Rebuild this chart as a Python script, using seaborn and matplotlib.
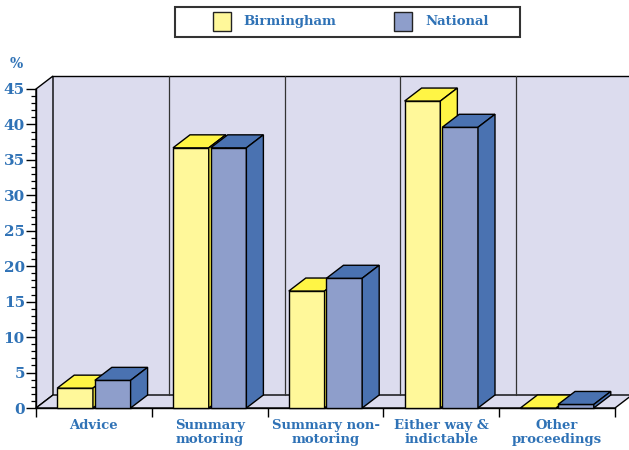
import numpy as np
import pandas as pd
import matplotlib
matplotlib.use("Agg")
import matplotlib.pyplot as plt
import seaborn as sns
from matplotlib.patches import Polygon, Rectangle
from matplotlib.ticker import FixedLocator, MultipleLocator

# ---- data ----
categories = ["Advice", "Summary\nmotoring", "Summary non-\nmotoring",
              "Either way &\nindictable", "Other\nproceedings"]
series = ["Birmingham", "National"]
birmingham = [2.8, 36.7, 16.5, 43.3, 0.0]
national = [3.9, 36.7, 18.3, 39.6, 0.5]
yticks = [0, 5, 10, 15, 20, 25, 30, 35, 40, 45]

# ---- style ----
front_colors = {"Birmingham": "#FFF89A", "National": "#8E9ECB"}
shade_colors = {"Birmingham": "#FFF545", "National": "#4A72B1"}
text_color = "#2F72B6"
wall_color = "#DCDCEE"

sns.set_theme(style="white")
plt.rcParams['font.family'] = ['DejaVu Serif', 'DejaVu Sans']
plt.rcParams['font.weight'] = 'bold'

W, H = 629, 450
fig = plt.figure(figsize=(W / 100, H / 100), dpi=100)
ax = fig.add_axes([36 / W, 42 / H, 579 / W, 319 / H])

df = pd.DataFrame({
    "category": categories * 2,
    "series": [series[0]] * len(categories) + [series[1]] * len(categories),
    "value": birmingham + national,
})
sns.barplot(data=df, x="category", y="value", hue="series", palette=front_colors,
            width=0.65, gap=0.05, edgecolor="black", linewidth=1, ax=ax,
            legend=False, saturation=1)

ax.set_xlim(-0.5, 4.5)
ax.set_ylim(0, 45)
ax.set_facecolor("none")

# depth offsets in data units
DX = 17 / (579 / 5)
DY = 13 * 45 / 319
x0, x1, ytop = -0.5, 4.5, 45

# walls and floor
lc = "black"
ax.add_patch(Polygon([(x0 + DX, DY), (x1 + DX + 1, DY), (x1 + DX + 1, ytop + DY), (x0 + DX, ytop + DY)],
                     closed=True, facecolor=wall_color, edgecolor="none", zorder=0.5, clip_on=False))
ax.add_patch(Polygon([(x0, 0), (x0 + DX, DY), (x0 + DX, ytop + DY), (x0, ytop)],
                     closed=True, facecolor=wall_color, edgecolor=lc, lw=1, zorder=0.6, clip_on=False))
ax.add_patch(Polygon([(x0, 0), (x1, 0), (x1 + DX, DY), (x0 + DX, DY)],
                     closed=True, facecolor=wall_color, edgecolor=lc, lw=1, zorder=0.7, clip_on=False))
ax.plot([x0 + DX, x1 + DX + 1], [ytop + DY, ytop + DY], color=lc, lw=1, zorder=0.8, clip_on=False)
for b in [0.5, 1.5, 2.5, 3.5]:
    ax.plot([b + DX, b + DX], [DY, ytop + DY], color="#333333", lw=0.9, zorder=0.8, clip_on=False)

# 3D extrusions of bars
for hi, cont in enumerate(ax.containers):
    name = series[hi]
    base_z = 3 + 2 * hi
    for p in cont:
        x, w, h = p.get_x(), p.get_width(), p.get_height()
        p.set_zorder(base_z)
        p.set_clip_on(False)
        top = Polygon([(x, h), (x + w, h), (x + w + DX, h + DY), (x + DX, h + DY)], closed=True,
                      facecolor=shade_colors[name], edgecolor="black", lw=1, zorder=base_z + 0.5,
                      clip_on=False)
        side = Polygon([(x + w, 0), (x + w + DX, DY), (x + w + DX, h + DY), (x + w, h)], closed=True,
                       facecolor=shade_colors[name], edgecolor="black", lw=1, zorder=base_z + 0.5,
                       clip_on=False)
        ax.add_patch(top)
        ax.add_patch(side)

# axes / ticks
for s in ["top", "right"]:
    ax.spines[s].set_visible(False)
for s in ["left", "bottom"]:
    ax.spines[s].set_color("black")
    ax.spines[s].set_linewidth(1)
    ax.spines[s].set_zorder(2)

ax.yaxis.set_major_locator(FixedLocator(yticks))
ax.yaxis.set_minor_locator(MultipleLocator(1))
ax.tick_params(axis="y", which="major", left=True, length=7, width=1, color="black",
               direction="out", labelsize=11, labelcolor=text_color, pad=1)
ax.tick_params(axis="y", which="minor", left=True, length=3.5, width=0.9, color="black", direction="out")

ax.xaxis.set_minor_locator(FixedLocator([-0.5, 0.5, 1.5, 2.5, 3.5, 4.5]))
ax.tick_params(axis="x", which="major", bottom=True, length=0, labelsize=9.5,
               labelcolor=text_color, pad=8)
ax.tick_params(axis="x", which="minor", bottom=True, length=6.5, width=1, color="black", direction="out")
for lab in ax.get_xticklabels():
    lab.set_linespacing(1.05)
    lab.set_verticalalignment("top")
ax.set_xlabel("")
ax.set_ylabel("")

fig.text(16 / W, 1 - 64 / H, "%", color=text_color, fontsize=10, fontweight="bold",
         ha="center", va="center")

# legend box
fig.patches.append(Rectangle((175 / W, 1 - 37 / H), 345 / W, 30 / H, transform=fig.transFigure,
                             fill=False, edgecolor="#333333", lw=1.5))
for name, sx, tx in [("Birmingham", 213, 243), ("National", 394, 425)]:
    fig.patches.append(Rectangle((sx / W, 1 - 31 / H), 18 / W, 19 / H, transform=fig.transFigure,
                                 facecolor=front_colors[name], edgecolor="#222222", lw=1))
    fig.text(tx / W, 1 - 21.5 / H, name, color=text_color, fontsize=9.5, fontweight="bold",
             ha="left", va="center")

fig.savefig("out.png", dpi=100)
